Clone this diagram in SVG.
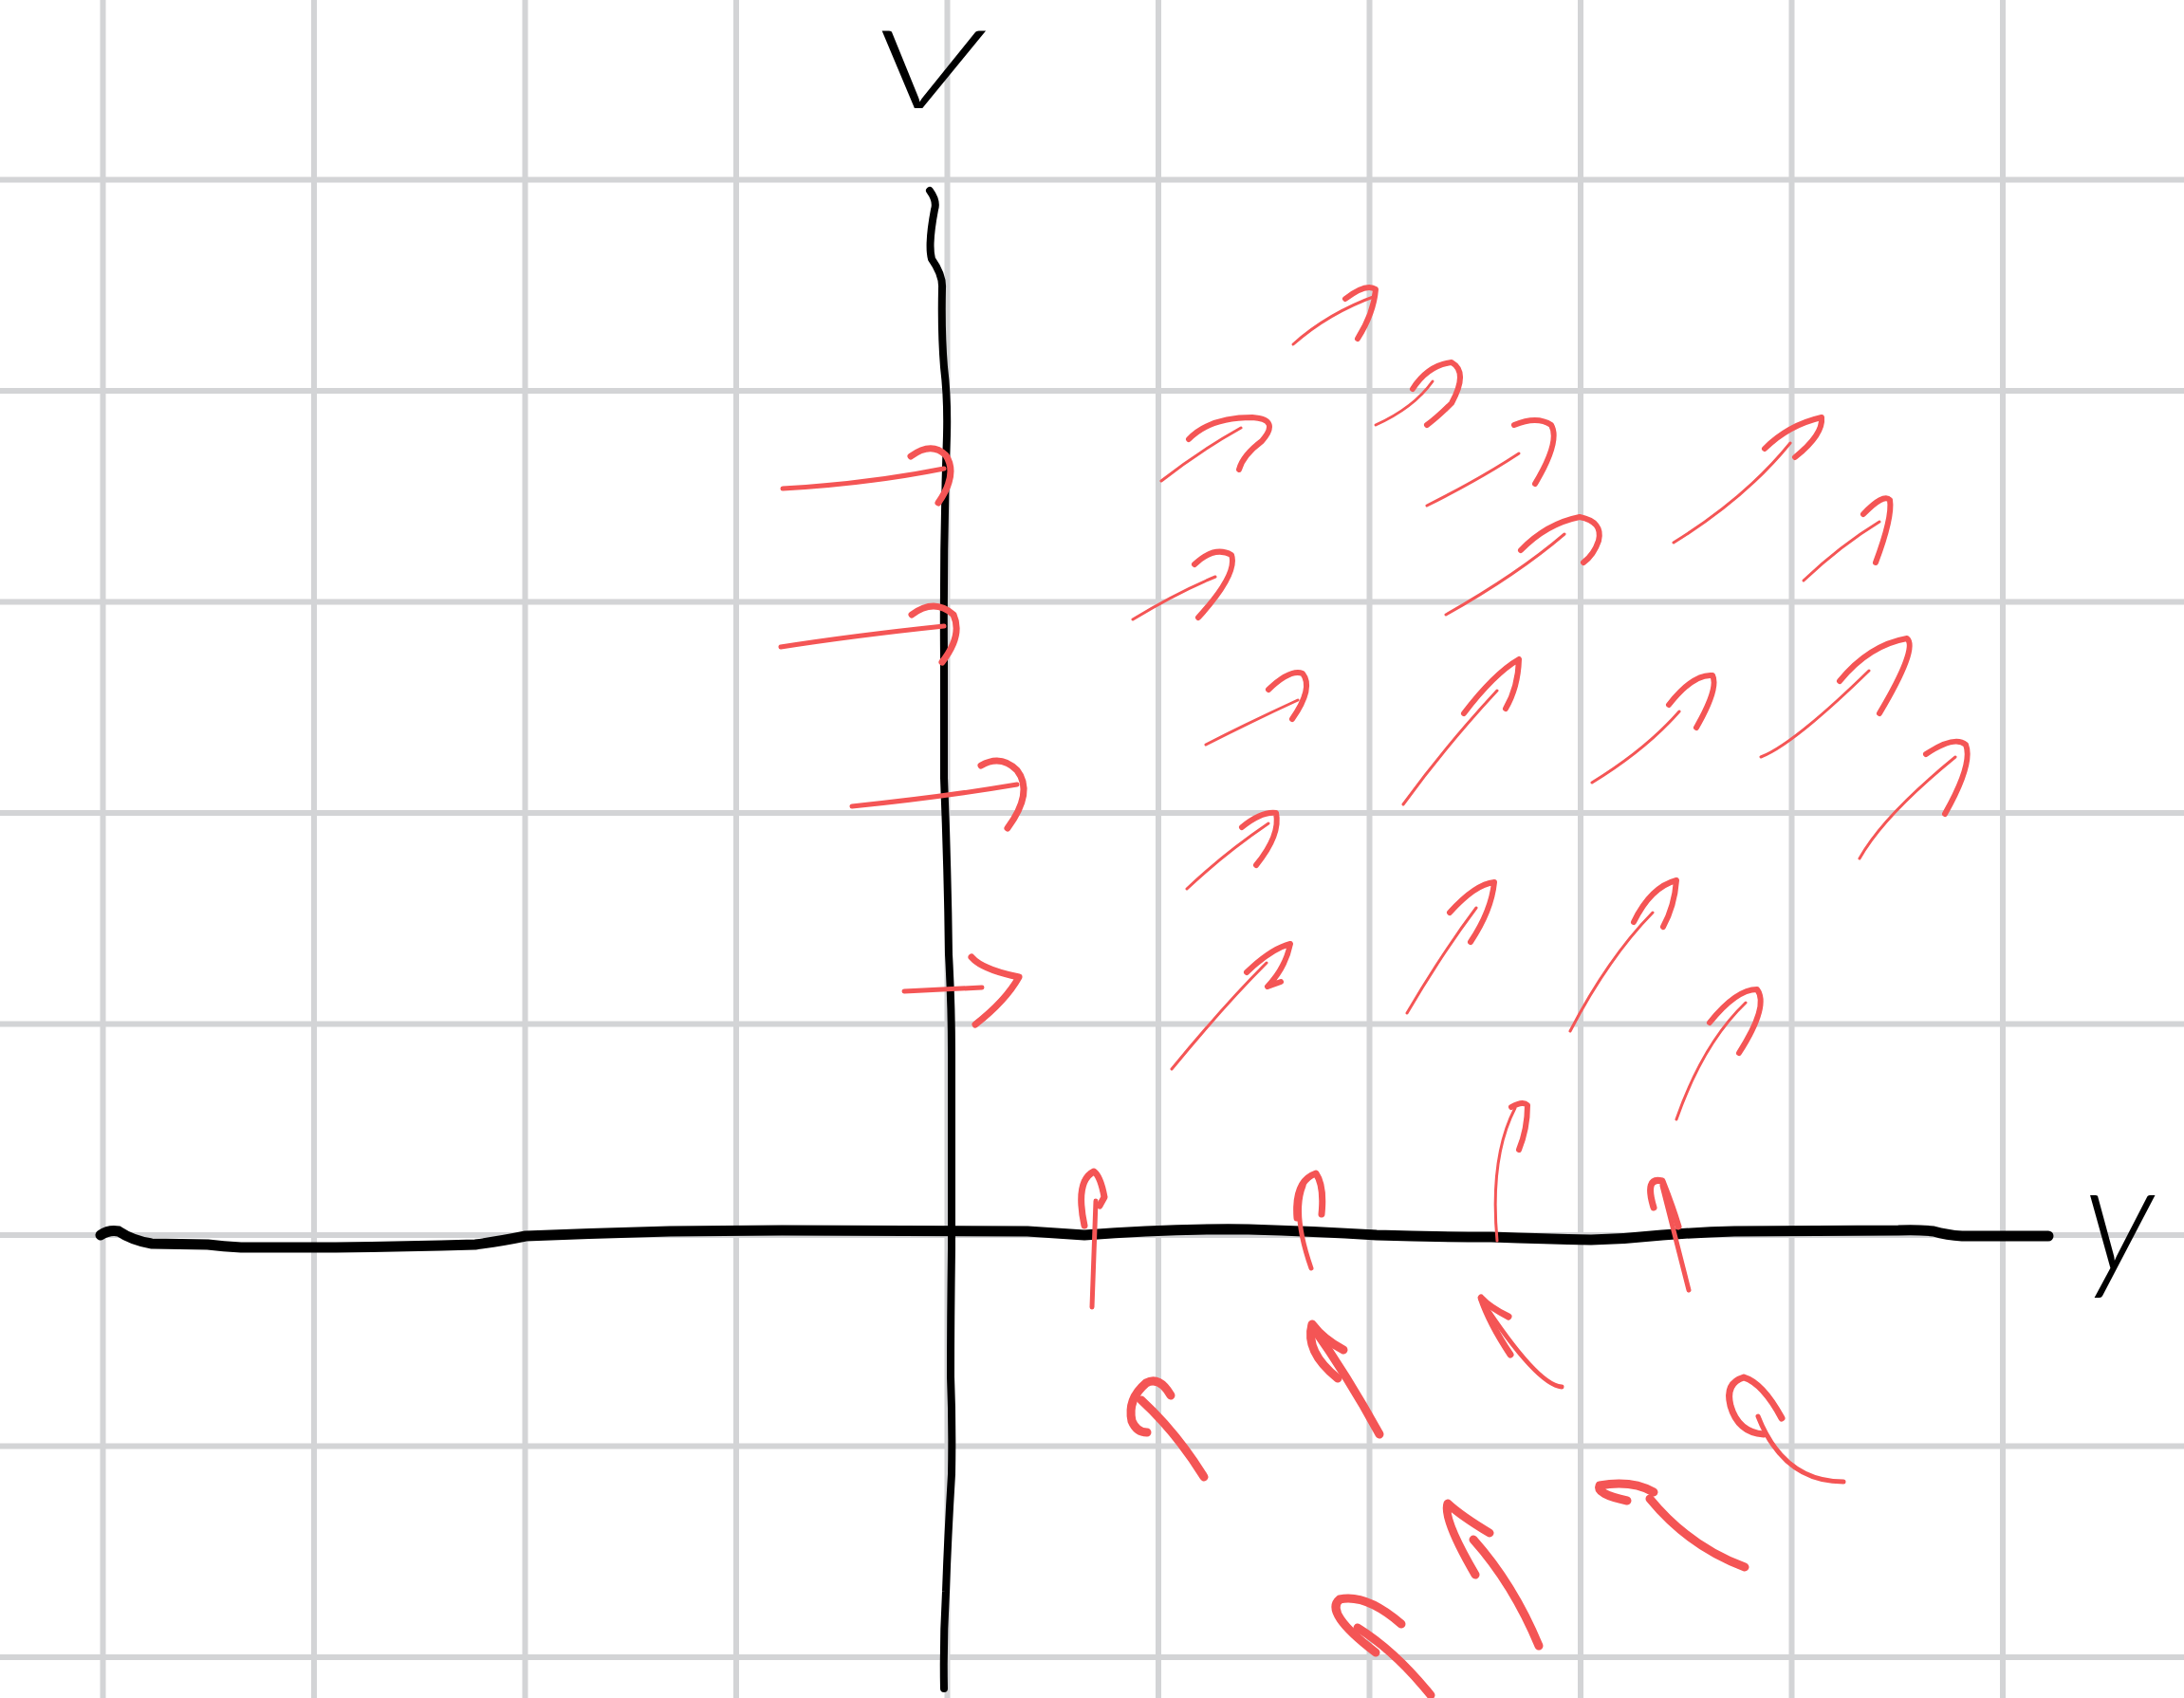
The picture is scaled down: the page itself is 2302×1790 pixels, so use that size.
<svg xmlns="http://www.w3.org/2000/svg" width="2302" height="1790" viewBox="0 0 2302 1790">
<style>
.grid line{stroke:#d3d4d6;stroke-width:6}
.axis{fill:none;stroke:#000;stroke-linecap:round;stroke-linejoin:round}
.arrow path{fill:none;stroke:#f45555;stroke-linecap:round;stroke-linejoin:round}
.t1 .s{stroke-width:3}
.t1 .h{stroke-width:6}
.t2 .s{stroke-width:5}
.t2 .h{stroke-width:7}
.t3 .s{stroke-width:9}
.t3 .h{stroke-width:9}
.lbl{font-family:"Lato","DejaVu Sans","Liberation Sans",sans-serif;font-style:italic;font-weight:300;fill:#000}
</style>
<rect width="2302" height="1790" fill="#fff"/>
<g id="grid" class="grid">
<line x1="108.5" y1="0" x2="108.5" y2="1790"/>
<line x1="331" y1="0" x2="331" y2="1790"/>
<line x1="553.5" y1="0" x2="553.5" y2="1790"/>
<line x1="776" y1="0" x2="776" y2="1790"/>
<line x1="998.5" y1="0" x2="998.5" y2="1790"/>
<line x1="1221" y1="0" x2="1221" y2="1790"/>
<line x1="1443.5" y1="0" x2="1443.5" y2="1790"/>
<line x1="1666" y1="0" x2="1666" y2="1790"/>
<line x1="1888.5" y1="0" x2="1888.5" y2="1790"/>
<line x1="2111" y1="0" x2="2111" y2="1790"/>
<line x1="0" y1="189.5" x2="2302" y2="189.5"/>
<line x1="0" y1="412" x2="2302" y2="412"/>
<line x1="0" y1="634.5" x2="2302" y2="634.5"/>
<line x1="0" y1="857" x2="2302" y2="857"/>
<line x1="0" y1="1079.5" x2="2302" y2="1079.5"/>
<line x1="0" y1="1302" x2="2302" y2="1302"/>
<line x1="0" y1="1524.5" x2="2302" y2="1524.5"/>
<line x1="0" y1="1747" x2="2302" y2="1747"/>
</g>
<g id="axes">
<path id="y-axis" class="axis" stroke-width="8" d="M980,201 Q988,212 985,221 Q978,258 982,273 Q994,290 993,304 Q992,350 995,387 Q999,420 998,459 Q994,580 995,697 Q995,760 995,820 Q999,920 1000,1006 Q1003,1060 1003,1110 L1003,1316 Q1002,1390 1002,1451 Q1004,1500 1003,1554 Q999,1620 997,1678 Q994,1730 995,1780"/>
<path id="x-axis" class="axis" stroke-width="11" d="M106,1302 Q115,1296 125,1298 Q140,1308 160,1311 L219,1312 Q235,1314 254,1315 L354,1315 Q430,1314 501,1312 Q530,1308 554,1303 Q630,1300 706,1298 L824,1297 L1083,1298 Q1112,1300 1143,1302 Q1230,1295 1316,1296 Q1385,1298 1451,1302 Q1510,1304 1572,1304 Q1630,1306 1677,1307 Q1715,1306 1752,1302 Q1790,1299 1828,1298 L2001,1297 Q2020,1296 2038,1298 Q2052,1302 2068,1303 L2159,1303"/>
</g>
<g id="labels">
<text id="label-v" class="lbl" x="918" y="114" font-size="114" textLength="114" lengthAdjust="spacingAndGlyphs">V</text>
<text id="label-y" class="lbl" x="2196" y="1340" font-size="160">y</text>
</g>
<g id="connectors">
<g id="arrow-1" class="arrow t2"><path class="s" d="M825,515 Q915,510 995,494"/><path class="h" d="M960,481 Q982,465 997,480 Q1010,500 989,530"/></g>
<g id="arrow-2" class="arrow t2"><path class="s" d="M823,682 Q900,670 995,660"/><path class="h" d="M961,648 Q985,630 1005,648 Q1015,670 993,698"/></g>
<g id="arrow-3" class="arrow t2"><path class="s" d="M898,850 Q995,840 1072,827"/><path class="h" d="M1034,807 Q1055,795 1072,812 Q1090,835 1062,873"/></g>
<g id="arrow-4" class="arrow t2"><path class="s" d="M953,1045 L1035,1041"/><path class="h" d="M1024,1009 Q1035,1022 1074,1030 Q1060,1055 1028,1080"/></g>
<g id="arrow-a" class="arrow t1"><path class="s" d="M1363,363 Q1400,330 1450,312"/><path class="h" d="M1418,315 Q1440,298 1450,305 Q1448,330 1431,357"/></g>
<g id="arrow-b" class="arrow t1"><path class="s" d="M1450,448 Q1490,430 1510,402"/><path class="h" d="M1489,410 Q1505,385 1530,382 Q1548,392 1530,425 Q1515,440 1504,448"/></g>
<g id="arrow-c" class="arrow t1"><path class="s" d="M1224,507 Q1265,475 1308,451"/><path class="h" d="M1253,463 Q1275,440 1320,440 Q1350,442 1330,465 Q1310,480 1306,495"/></g>
<g id="arrow-d" class="arrow t1"><path class="s" d="M1504,533 Q1560,505 1601,478"/><path class="h" d="M1596,448 Q1620,438 1635,448 Q1645,465 1618,510"/></g>
<g id="arrow-e" class="arrow t1"><path class="s" d="M1524,648 Q1600,605 1649,563"/><path class="h" d="M1603,580 Q1630,552 1665,545 Q1690,550 1685,570 Q1680,585 1669,593"/></g>
<g id="arrow-f" class="arrow t1"><path class="s" d="M1764,572 Q1840,525 1887,467"/><path class="h" d="M1860,473 Q1885,448 1920,440 Q1922,458 1892,482"/></g>
<g id="arrow-g" class="arrow t1"><path class="s" d="M1901,612 Q1940,575 1981,550"/><path class="h" d="M1964,542 Q1985,520 1992,527 Q1995,545 1977,593"/></g>
<g id="arrow-h" class="arrow t1"><path class="s" d="M1194,653 Q1240,625 1281,608"/><path class="h" d="M1259,595 Q1280,575 1298,585 Q1305,605 1263,651"/></g>
<g id="arrow-i" class="arrow t1"><path class="s" d="M1271,785 Q1320,760 1368,738"/><path class="h" d="M1337,727 Q1360,705 1373,710 Q1385,725 1362,758"/></g>
<g id="arrow-j" class="arrow t1"><path class="s" d="M1479,848 Q1525,785 1578,728"/><path class="h" d="M1543,752 Q1575,710 1601,695 Q1600,725 1587,747"/></g>
<g id="arrow-k" class="arrow t1"><path class="s" d="M1678,825 Q1735,790 1770,750"/><path class="h" d="M1759,743 Q1785,710 1805,712 Q1812,725 1788,767"/></g>
<g id="arrow-l" class="arrow t1"><path class="s" d="M1856,798 Q1890,785 1970,707"/><path class="h" d="M1939,718 Q1970,680 2010,673 Q2022,683 1981,752"/></g>
<g id="arrow-m" class="arrow t1"><path class="s" d="M1960,905 Q1985,860 2061,798"/><path class="h" d="M2030,795 Q2060,775 2072,785 Q2080,805 2050,858"/></g>
<g id="arrow-n" class="arrow t1"><path class="s" d="M1251,937 Q1290,900 1337,868"/><path class="h" d="M1309,872 Q1330,855 1345,857 Q1350,880 1324,912"/></g>
<g id="arrow-o" class="arrow t1"><path class="s" d="M1235,1127 Q1290,1060 1335,1015"/><path class="h" d="M1314,1025 Q1340,1000 1360,995 Q1355,1020 1336,1040 L1350,1035"/></g>
<g id="arrow-p" class="arrow t1"><path class="s" d="M1483,1068 Q1520,1005 1556,957"/><path class="h" d="M1528,962 Q1555,932 1575,930 Q1572,960 1550,993"/></g>
<g id="arrow-q" class="arrow t1"><path class="s" d="M1655,1087 Q1695,1010 1742,962"/><path class="h" d="M1722,972 Q1740,935 1767,928 Q1765,955 1753,977"/></g>
<g id="arrow-r" class="arrow t1"><path class="s" d="M1767,1180 Q1795,1100 1840,1057"/><path class="h" d="M1802,1078 Q1830,1043 1852,1043 Q1865,1060 1833,1110"/></g>
<g id="arrow-s" class="arrow t1"><path class="s" d="M1578,1308 Q1570,1220 1597,1168"/><path class="h" d="M1593,1167 Q1605,1160 1610,1165 Q1610,1190 1601,1212"/></g>
<g id="arrow-t" class="arrow t2"><path class="s" d="M1151,1378 L1155,1266"/><path class="h" d="M1143,1292 Q1133,1245 1153,1235 Q1160,1240 1164,1262 L1159,1271"/></g>
<g id="arrow-u" class="arrow t2"><path class="s" d="M1382,1337 Q1362,1280 1374,1250"/><path class="h" d="M1367,1284 Q1364,1245 1387,1237 Q1396,1250 1393,1280"/></g>
<g id="arrow-v" class="arrow t2"><path class="s" d="M1780,1360 L1752,1250"/><path class="h" d="M1743,1273 Q1733,1240 1752,1245 Q1762,1270 1769,1293"/></g>
<g id="arrow-w" class="arrow t3"><path class="s" d="M1269,1557 Q1240,1510 1203,1476"/><path class="h" d="M1234,1471 Q1222,1450 1208,1458 Q1188,1475 1193,1498 Q1198,1510 1209,1510"/></g>
<g id="arrow-x" class="arrow t3"><path class="s" d="M1454,1512 Q1420,1450 1383,1398"/><path class="h" d="M1416,1423 Q1395,1412 1383,1396 Q1375,1425 1410,1453"/></g>
<g id="arrow-y" class="arrow t2"><path class="s" d="M1646,1462 Q1620,1460 1561,1370"/><path class="h" d="M1590,1388 Q1570,1378 1561,1368 Q1570,1395 1592,1428"/></g>
<g id="arrow-z" class="arrow t2"><path class="s" d="M1943,1562 Q1880,1562 1853,1493"/><path class="h" d="M1878,1495 Q1858,1458 1838,1452 Q1818,1458 1824,1482 Q1832,1510 1859,1512"/></g>
<g id="arrow-aa" class="arrow t3"><path class="s" d="M1839,1652 Q1780,1630 1739,1580"/><path class="h" d="M1743,1573 Q1720,1560 1686,1566 Q1682,1575 1715,1582"/></g>
<g id="arrow-bb" class="arrow t3"><path class="s" d="M1622,1735 Q1595,1670 1553,1623"/><path class="h" d="M1570,1616 Q1540,1598 1526,1585 Q1520,1600 1555,1660"/></g>
<g id="arrow-cc" class="arrow t3"><path class="s" d="M1508,1787 Q1470,1740 1431,1716"/><path class="h" d="M1477,1712 Q1440,1680 1412,1686 Q1395,1700 1450,1742"/></g>
</g>
</svg>
